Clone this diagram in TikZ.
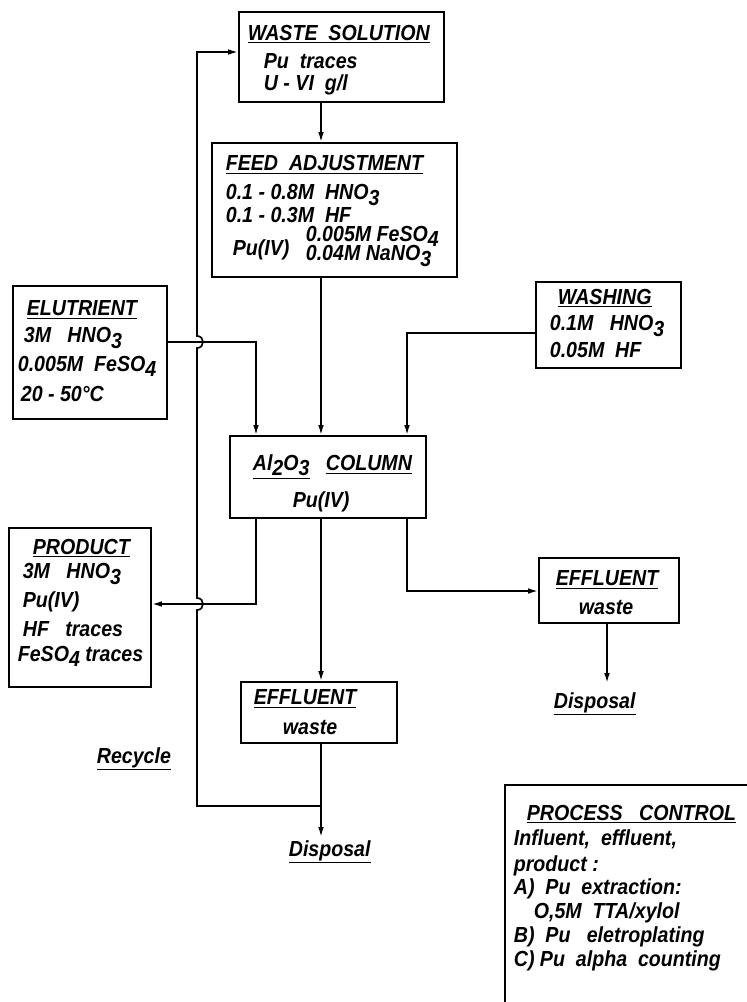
\documentclass[tikz,border=0pt]{standalone}
\usepackage{fontspec}
\setmainfont{Liberation Sans}[FakeStretch=0.9]
\usetikzlibrary{arrows.meta}
\newcommand{\dn}[1]{\raisebox{-0.45ex}{#1}}

\begin{document}
\begin{tikzpicture}[x=0.025cm, y=-0.025cm, line width=1.2pt,
    box/.style={draw, line width=1.3pt, inner sep=0pt},
    txt/.style={anchor=west, inner sep=0pt, font=\bfseries\itshape\fontsize{15.5}{18}\selectfont},
    arr/.style={-{Latex[length=7pt,width=4pt]}}]
    \useasboundingbox (0,0) rectangle (747,1002);

    \node[box, minimum width=5.125cm, minimum height=2.25cm] (waste) at (341.5,57) {};
    \node[box, minimum width=6.125cm, minimum height=3.35cm] (feed) at (334.5,210) {};
    \node[box, minimum width=3.85cm, minimum height=3.325cm] (elut) at (90,352.5) {};
    \node[box, minimum width=3.625cm, minimum height=2.15cm] (wash) at (608.5,325) {};
    \node[box, minimum width=4.9cm, minimum height=2.05cm] (col) at (328,477) {};
    \node[box, minimum width=3.55cm, minimum height=3.975cm] (prod) at (80,607.5) {};
    \node[box, minimum width=3.9cm, minimum height=1.525cm] (eff1) at (319,712.5) {};
    \node[box, minimum width=3.5cm, minimum height=1.625cm] (eff2) at (609,590.5) {};
    \draw[line width=1.3pt] (747,785) -- (505,785) -- (505,1002);

    \node[txt] (wst1) at (247,34) {\underline{WASTE\enspace SOLUTION}};
    \node[txt] (wst2) at (263,61) {Pu\enspace traces};
    \node[txt] (wst3) at (263,85) {U - VI\enspace g/l};

    \node[txt] (fd1) at (225,164.5) {\underline{FEED\enspace ADJUSTMENT}};
    \node[txt] (fd2) at (225,195) {0.1 - 0.8M\enspace HNO\dn{3}};
    \node[txt] (fd3) at (225,215) {0.1 - 0.3M\enspace HF};
    \node[txt] (fd4) at (232,250) {Pu(IV)};
    \node[txt] (fd5) at (305,236) {0.005M FeSO\dn{4}};
    \node[txt] (fd6) at (305,256) {0.04M NaNO\dn{3}};

    \node[txt] (el1) at (26,310) {\underline{ELUTRIENT}};
    \node[txt] (el2) at (23,338) {3M\enspace\ HNO\dn{3}};
    \node[txt] (el3) at (17,366) {0.005M\enspace FeSO\dn{4}};
    \node[txt] (el4) at (20,394) {20 - 50°C};

    \node[txt] (ws1) at (557,298) {\underline{WASHING}};
    \node[txt] (ws2) at (549,326) {0.1M\enspace\ HNO\dn{3}};
    \node[txt] (ws3) at (549,350) {0.05M\enspace HF};

    \node[txt] (cl1) at (252,467) {\underline{Al\dn{2}O\dn{3}}\enspace\ \underline{COLUMN}};
    \node[txt] (cl2) at (292,502) {Pu(IV)};

    \node[txt] (pr1) at (32,548) {\underline{PRODUCT}};
    \node[txt] (pr2) at (22,574) {3M\enspace\ HNO\dn{3}};
    \node[txt] (pr3) at (22,602) {Pu(IV)};
    \node[txt] (pr4) at (22,629) {HF\enspace\ traces};
    \node[txt] (pr5) at (17,656) {FeSO\dn{4}\ traces};

    \node[txt] (ef1) at (253,699) {\underline{EFFLUENT}};
    \node[txt] (ef2) at (282,727) {waste};
    \node[txt] (ef3) at (555,580) {\underline{EFFLUENT}};
    \node[txt] (ef4) at (578,607) {waste};

    \node[txt] (disp1) at (288,852) {\underline{Disposal}};
    \node[txt] (disp2) at (553,704) {\underline{Disposal}};
    \node[txt] (recy) at (96,759) {\underline{Recycle}};

    \node[txt] (pc1) at (526,814) {\underline{PROCESS\enspace\ CONTROL}};
    \node[txt] (pc2) at (513,839) {Influent,\enspace effluent,};
    \node[txt] (pc3) at (513,866) {product :};
    \node[txt] (pc4) at (513,889) {A)\enspace Pu\enspace extraction:};
    \node[txt] (pc5) at (533,913) {O,5M\enspace TTA/xylol};
    \node[txt] (pc6) at (513,937) {B)\enspace Pu\enspace\ eletroplating};
    \node[txt] (pc7) at (513,961) {C) Pu\enspace alpha\enspace counting};

    \coordinate (xa) at (256,0);
    \coordinate (xb) at (321,0);
    \coordinate (xc) at (407,0);
    \coordinate (ye) at (0,342);
    \coordinate (yw) at (0,333);
    \coordinate (yp) at (0,604);
    \coordinate (yf) at (0,591);
    \coordinate (d1) at (321,837);
    \coordinate (d2) at (607,683);
    \coordinate (rc) at (321,806);
    \coordinate (rb) at (197,806);
    \coordinate (rt) at (197,52);

    \draw[arr] (waste.south -| xb) -- (feed.north -| xb);
    \draw[arr] (feed.south -| xb) -- (col.north -| xb);
    \draw[arr] (elut.east |- ye) -| (col.north -| xa);
    \draw[arr] (wash.west |- yw) -| (col.north -| xc);
    \draw[arr] (col.south -| xa) |- (prod.east |- yp);
    \draw[arr] (col.south -| xb) -- (eff1.north -| xb);
    \draw[arr] (col.south -| xc) |- (eff2.west |- yf);
    \draw[arr] (eff2.south -| d2) -- (d2);
    \draw[arr] (eff1.south -| xb) -- (d1);
    \draw[arr] (rc) -- (rb) -- (197,610) .. controls (205,610) and (205,598) .. (197,598)
        -- (197,348) .. controls (205,348) and (205,336) .. (197,336) -- (rt) -- (waste.west |- rt);
\end{tikzpicture}
\end{document}
